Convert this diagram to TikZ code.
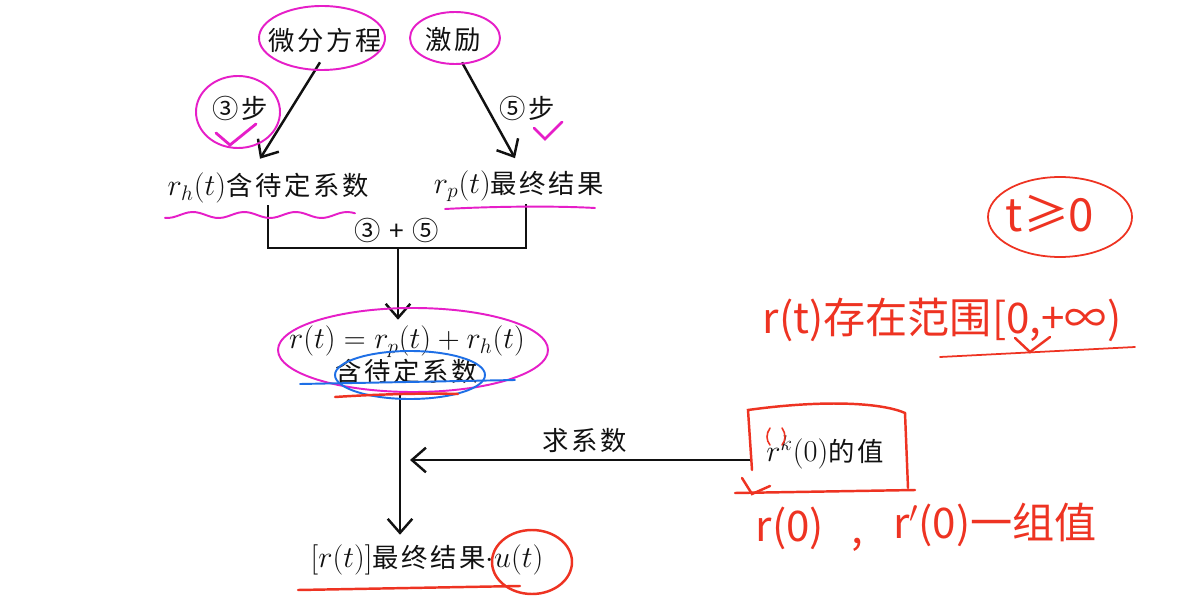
\documentclass[tikz,border=0pt]{standalone}
\usepackage{fontspec}
\newfontfamily\cjk[LetterSpace=10]{Noto Sans CJK SC}
\newfontfamily\hand{Noto Sans CJK SC}
\usetikzlibrary{arrows.meta,calc}
\definecolor{ink}{HTML}{111111}
\definecolor{markpink}{HTML}{E61EC8}
\definecolor{markred}{HTML}{EE3322}
\definecolor{markblue}{HTML}{1E6FE6}
\newcommand{\mth}[1]{{\fontsize{17.5}{20}\selectfont$#1$}}

\begin{document}
\begin{tikzpicture}[
  x=0.02cm, y=-0.02cm,
  font=\cjk\fontsize{15}{18}\selectfont,
  >={Straight Barb[length=8pt,width=14pt]},
  term/.style={text=ink, inner sep=1pt, align=center},
  link/.style={->, draw=ink, line width=1.4pt},
  wire/.style={draw=ink, line width=1.4pt},
  pinkmark/.style={draw=markpink, line width=1.1pt, line cap=round},
  bluemark/.style={draw=markblue, line width=1.1pt, line cap=round},
  redmark/.style={draw=markred, line width=1.4pt, line cap=round},
  note/.style={text=markred, font=\hand\fontsize{24}{28}\selectfont, inner sep=0pt}
]
\useasboundingbox[fill=white] (0,0) rectangle (1186,601);

% printed flow
\node[term] (de) at (325,40) {微分方程};
\node[term] (ex) at (453,40) {激励};
\node[term] (s3) at (240,108) {③步};
\node[term] (s5) at (527,108) {⑤步};
\node[term] (rh) at (268,188) {\mth{r_h(t)}含待定系数};
\node[term] (rp) at (519,186) {\mth{r_p(t)}最终结果};
\node[term] (sum) at (397,230) {③ + ⑤};
\node[term, font=\cjk\fontsize{15}{19}\selectfont] (rt) at (407,355) {\mth{r(t)=r_p(t)+r_h(t)}\\含待定系数};
\node[term] (res) at (427,560) {\mth{[r(t)]}最终结果\mth{\cdot u(t)}};
\node[term] (rk) at (825,452) {\mth{r^{k}(0)}的值};
\node[term] (ask) at (585,441) {求系数};

\coordinate (join) at (398,248);
\coordinate (stem) at (400,460);
\coordinate (hit) at ($(stem)+(10,0)$);
\coordinate (rpfoot) at ($(rp.south)+(7,0)$);

\draw[link] ($(de.south)+(-5,8)$) -- ($(rh.north)+(-8,-12)$);
\draw[link] ($(ex.south)+(9,8)$) -- ($(rp.north)+(-4,-10)$);
\draw[wire] (rh.south) -- (rh.south |- join) -- (rpfoot |- join) -- (rpfoot);
\draw[link] (join) -- ($(rt.north -| join)+(0,-4)$);
\draw[link] ($(rt.south -| stem)+(0,6)$) -- ($(res.north -| stem)+(0,-8)$);
\draw[link] ($(rk.west)+(-12,8)$) -- (hit);

% pink marks
\draw[pinkmark] (322,38) ellipse [x radius=63, y radius=32];
\draw[pinkmark] (455,38) ellipse [x radius=45, y radius=26];
\draw[pinkmark] (238,112) ellipse [x radius=42, y radius=36];
\draw[pinkmark, line width=1.6pt] (216,133) -- (230,145) -- (256,124);
\draw[pinkmark, line width=1.6pt] (534,128) -- (545,139) -- (562,122);
\draw[pinkmark] plot[domain=165:355, samples=50] (\x,{215+3*sin(\x*7)});
\draw[pinkmark] (445,209) .. controls (500,206) and (560,206) .. (595,208);
\draw[pinkmark] (413,350) ellipse [x radius=135, y radius=42];

% blue marks
\draw[bluemark] (410,375) ellipse [x radius=75, y radius=24];
\draw[bluemark] (300,384) -- (515,380);

% red marks
\draw[redmark] (335,397) .. controls (380,394) and (430,393) .. (458,394);
\draw[redmark] (298,590) -- (520,586);
\draw[redmark] (532,562) ellipse [x radius=40, y radius=32];
\draw[redmark] (752,470) -- (748,410) .. controls (820,400) and (880,402) .. (905,413) -- (908,488);
\draw[redmark] (735,493) -- (915,490);
\draw[redmark] (742,478) -- (752,494) -- (770,486);
\draw[redmark, line width=0.9pt] (770,428) .. controls (766,434) and (766,440) .. (770,445);
\draw[redmark, line width=0.9pt] (782,428) .. controls (786,434) and (786,440) .. (782,445);

\draw[redmark, line width=1pt] (1060,217) ellipse [x radius=72, y radius=40];
\node[note, font=\hand\fontsize{26}{30}\selectfont] (tge) at (1050,214) {t≥0};
\node[note] (span) at (942,320) {r(t)存在范围[0,+∞)};
\draw[redmark, line width=1pt] (940,357) -- (1135,347);
\draw[redmark] (1015,338) -- (1030,352) -- (1050,337);
\node[note] (r0) at (790,528) {r(0)};
\node[note] (comma) at (857,545) {,};
\node[note] (r1) at (995,525) {r$'$(0)一组值};
\end{tikzpicture}
\end{document}
